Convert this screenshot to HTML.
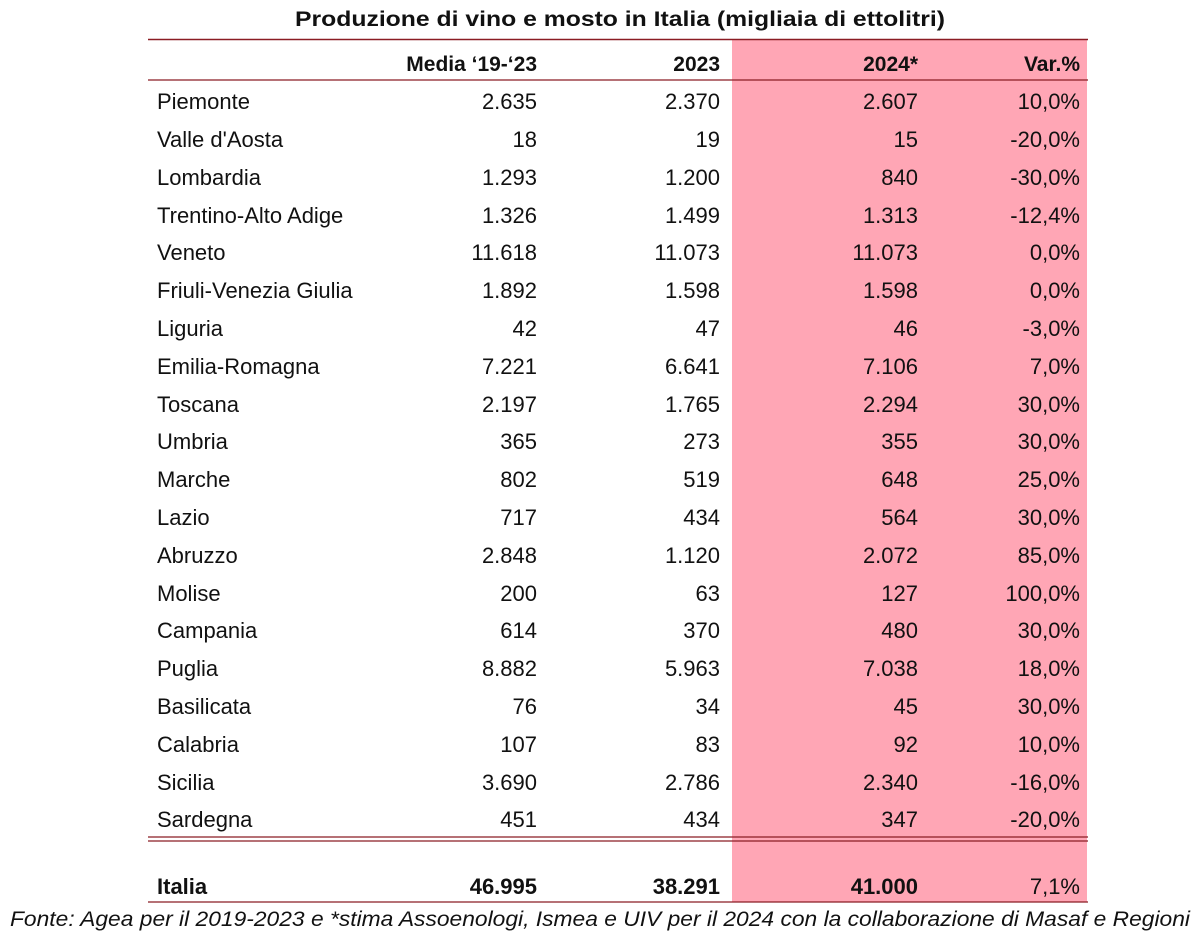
<!DOCTYPE html>
<html><head><meta charset="utf-8"><style>
html,body{margin:0;padding:0;background:#fff;width:1200px;height:938px;overflow:hidden}
svg{display:block}
text{font-family:"Liberation Sans",sans-serif;fill:#111}
</style></head><body>
<svg width="1200" height="938" viewBox="0 0 1200 938">
<rect x="732" y="39" width="355" height="863" fill="#ffa6b5"/>
<text x="620" y="26" text-anchor="middle" font-size="21" font-weight="bold" textLength="650" lengthAdjust="spacingAndGlyphs">Produzione di vino e mosto in Italia (migliaia di ettolitri)</text>
<line x1="148" y1="39.5" x2="1088" y2="39.5" stroke="#8b1c24" stroke-width="1.5"/>
<line x1="148" y1="80" x2="1088" y2="80" stroke="#8b1c24" stroke-width="1.2"/>
<line x1="148" y1="837" x2="1088" y2="837" stroke="#8b1c24" stroke-width="1.2"/>
<line x1="148" y1="841" x2="1088" y2="841" stroke="#8b1c24" stroke-width="1.2"/>
<line x1="148" y1="902" x2="1088" y2="902" stroke="#8b1c24" stroke-width="1.2"/>
<g font-size="21" font-weight="bold" text-anchor="end">
<text x="537" y="71">Media ‘19-‘23</text><text x="720" y="71">2023</text><text x="918" y="71">2024*</text><text x="1080" y="71">Var.%</text>
</g>
<g font-size="22" font-weight="bold">
<text x="157" y="894">Italia</text>
<text x="537" y="894" text-anchor="end">46.995</text>
<text x="720" y="894" text-anchor="end">38.291</text>
<text x="918" y="894" text-anchor="end">41.000</text>
</g>
<text x="1080" y="894" font-size="22" text-anchor="end">7,1%</text>
<text x="10" y="926" font-size="21" font-style="italic" textLength="1180" lengthAdjust="spacingAndGlyphs">Fonte: Agea per il 2019-2023 e *stima Assoenologi, Ismea e UIV per il 2024 con la collaborazione di Masaf e Regioni</text>
<g font-size="22">
<text x="157" y="109">Piemonte</text><text x="537" y="109" text-anchor="end">2.635</text><text x="720" y="109" text-anchor="end">2.370</text><text x="918" y="109" text-anchor="end">2.607</text><text x="1080" y="109" text-anchor="end">10,0%</text>
<text x="157" y="147">Valle d'Aosta</text><text x="537" y="147" text-anchor="end">18</text><text x="720" y="147" text-anchor="end">19</text><text x="918" y="147" text-anchor="end">15</text><text x="1080" y="147" text-anchor="end">-20,0%</text>
<text x="157" y="185">Lombardia</text><text x="537" y="185" text-anchor="end">1.293</text><text x="720" y="185" text-anchor="end">1.200</text><text x="918" y="185" text-anchor="end">840</text><text x="1080" y="185" text-anchor="end">-30,0%</text>
<text x="157" y="223">Trentino-Alto Adige</text><text x="537" y="223" text-anchor="end">1.326</text><text x="720" y="223" text-anchor="end">1.499</text><text x="918" y="223" text-anchor="end">1.313</text><text x="1080" y="223" text-anchor="end">-12,4%</text>
<text x="157" y="260">Veneto</text><text x="537" y="260" text-anchor="end">11.618</text><text x="720" y="260" text-anchor="end">11.073</text><text x="918" y="260" text-anchor="end">11.073</text><text x="1080" y="260" text-anchor="end">0,0%</text>
<text x="157" y="298">Friuli-Venezia Giulia</text><text x="537" y="298" text-anchor="end">1.892</text><text x="720" y="298" text-anchor="end">1.598</text><text x="918" y="298" text-anchor="end">1.598</text><text x="1080" y="298" text-anchor="end">0,0%</text>
<text x="157" y="336">Liguria</text><text x="537" y="336" text-anchor="end">42</text><text x="720" y="336" text-anchor="end">47</text><text x="918" y="336" text-anchor="end">46</text><text x="1080" y="336" text-anchor="end">-3,0%</text>
<text x="157" y="374">Emilia-Romagna</text><text x="537" y="374" text-anchor="end">7.221</text><text x="720" y="374" text-anchor="end">6.641</text><text x="918" y="374" text-anchor="end">7.106</text><text x="1080" y="374" text-anchor="end">7,0%</text>
<text x="157" y="412">Toscana</text><text x="537" y="412" text-anchor="end">2.197</text><text x="720" y="412" text-anchor="end">1.765</text><text x="918" y="412" text-anchor="end">2.294</text><text x="1080" y="412" text-anchor="end">30,0%</text>
<text x="157" y="449">Umbria</text><text x="537" y="449" text-anchor="end">365</text><text x="720" y="449" text-anchor="end">273</text><text x="918" y="449" text-anchor="end">355</text><text x="1080" y="449" text-anchor="end">30,0%</text>
<text x="157" y="487">Marche</text><text x="537" y="487" text-anchor="end">802</text><text x="720" y="487" text-anchor="end">519</text><text x="918" y="487" text-anchor="end">648</text><text x="1080" y="487" text-anchor="end">25,0%</text>
<text x="157" y="525">Lazio</text><text x="537" y="525" text-anchor="end">717</text><text x="720" y="525" text-anchor="end">434</text><text x="918" y="525" text-anchor="end">564</text><text x="1080" y="525" text-anchor="end">30,0%</text>
<text x="157" y="563">Abruzzo</text><text x="537" y="563" text-anchor="end">2.848</text><text x="720" y="563" text-anchor="end">1.120</text><text x="918" y="563" text-anchor="end">2.072</text><text x="1080" y="563" text-anchor="end">85,0%</text>
<text x="157" y="601">Molise</text><text x="537" y="601" text-anchor="end">200</text><text x="720" y="601" text-anchor="end">63</text><text x="918" y="601" text-anchor="end">127</text><text x="1080" y="601" text-anchor="end">100,0%</text>
<text x="157" y="638">Campania</text><text x="537" y="638" text-anchor="end">614</text><text x="720" y="638" text-anchor="end">370</text><text x="918" y="638" text-anchor="end">480</text><text x="1080" y="638" text-anchor="end">30,0%</text>
<text x="157" y="676">Puglia</text><text x="537" y="676" text-anchor="end">8.882</text><text x="720" y="676" text-anchor="end">5.963</text><text x="918" y="676" text-anchor="end">7.038</text><text x="1080" y="676" text-anchor="end">18,0%</text>
<text x="157" y="714">Basilicata</text><text x="537" y="714" text-anchor="end">76</text><text x="720" y="714" text-anchor="end">34</text><text x="918" y="714" text-anchor="end">45</text><text x="1080" y="714" text-anchor="end">30,0%</text>
<text x="157" y="752">Calabria</text><text x="537" y="752" text-anchor="end">107</text><text x="720" y="752" text-anchor="end">83</text><text x="918" y="752" text-anchor="end">92</text><text x="1080" y="752" text-anchor="end">10,0%</text>
<text x="157" y="790">Sicilia</text><text x="537" y="790" text-anchor="end">3.690</text><text x="720" y="790" text-anchor="end">2.786</text><text x="918" y="790" text-anchor="end">2.340</text><text x="1080" y="790" text-anchor="end">-16,0%</text>
<text x="157" y="827">Sardegna</text><text x="537" y="827" text-anchor="end">451</text><text x="720" y="827" text-anchor="end">434</text><text x="918" y="827" text-anchor="end">347</text><text x="1080" y="827" text-anchor="end">-20,0%</text>
</g>
</svg>
</body></html>
